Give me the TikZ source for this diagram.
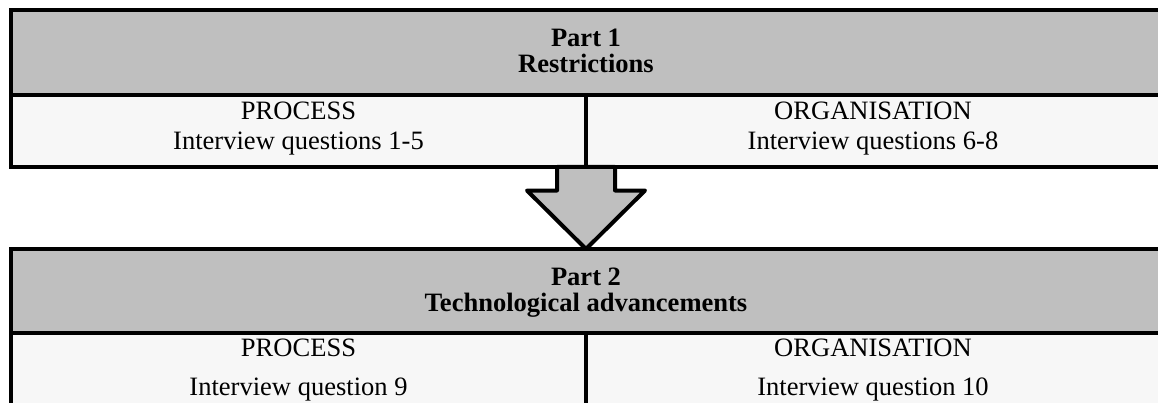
\documentclass[tikz,border=0pt]{standalone}
\usepackage{fontspec}
\setmainfont{Liberation Serif}
\usetikzlibrary{calc}
\definecolor{headgrey}{HTML}{BFBFBF}
\definecolor{bodygrey}{HTML}{F7F7F7}
\begin{document}
\begin{tikzpicture}[x=0.75pt,y=-0.75pt,
  every node/.style={inner sep=0pt,outer sep=0pt},
  headcell/.style={draw=black,line width=3pt,fill=headgrey,anchor=north west,minimum width=861.75pt,minimum height=#1},
  bodycell/.style={draw=black,line width=3pt,fill=bodygrey,anchor=north west,minimum width=431.25pt,minimum height=#1},
  txt/.style={anchor=base,font=\fontsize{19.9pt}{24pt}\selectfont},
  boldtxt/.style={txt,font=\fontsize{19.9pt}{24pt}\selectfont\bfseries},
  bigarrow/.style={draw=black,line width=3pt,fill=headgrey,line join=round}]
\useasboundingbox (0,0) rectangle (1158,403);
\clip (0,0) rectangle (1158,403);

% Part 1 table
\node[headcell=63.75pt] (h1) at (11,10) {};
\node[bodycell=54pt] (c1a) at (11,95) {};
\node[bodycell=54pt] (c1b) at (586,95) {};

% Part 2 table
\node[headcell=63pt] (h2) at (11,249) {};
\node[bodycell=54pt] (c2a) at (11,333) {};
\node[bodycell=54pt] (c2b) at (586,333) {};

% block arrow from the first table down to the second
\coordinate (tip) at (c1a.south east |- h2.north);
\draw[bigarrow] ($(c1a.south east)+(-29,0)$) -- ++(0,23.5) -- ++(-30,0)
  -- (tip) -- ($(c1a.south east)+(59,23.5)$) -- ++(-30,0) -- ($(c1a.south east)+(29,0)$) -- cycle;

% texts
\node[boldtxt] (p1) at (586,46.7) {Part 1};
\node[boldtxt] (p1t) at (586,73) {Restrictions};
\node[txt] (p1l1) at (298.5,120) {PROCESS};
\node[txt] (p1l2) at (298.5,150) {Interview questions 1-5};
\node[txt] (p1r1) at (873,120) {ORGANISATION};
\node[txt] (p1r2) at (873,150) {Interview questions 6-8};

\node[boldtxt] (p2) at (586,285.7) {Part 2};
\node[boldtxt] (p2t) at (586,311.7) {Technological advancements};
\node[txt] (p2l1) at (298.5,356.7) {PROCESS};
\node[txt] (p2l2) at (298.5,395.5) {Interview question 9};
\node[txt] (p2r1) at (873,356.7) {ORGANISATION};
\node[txt] (p2r2) at (873,395.5) {Interview question 10};
\end{tikzpicture}
\end{document}
